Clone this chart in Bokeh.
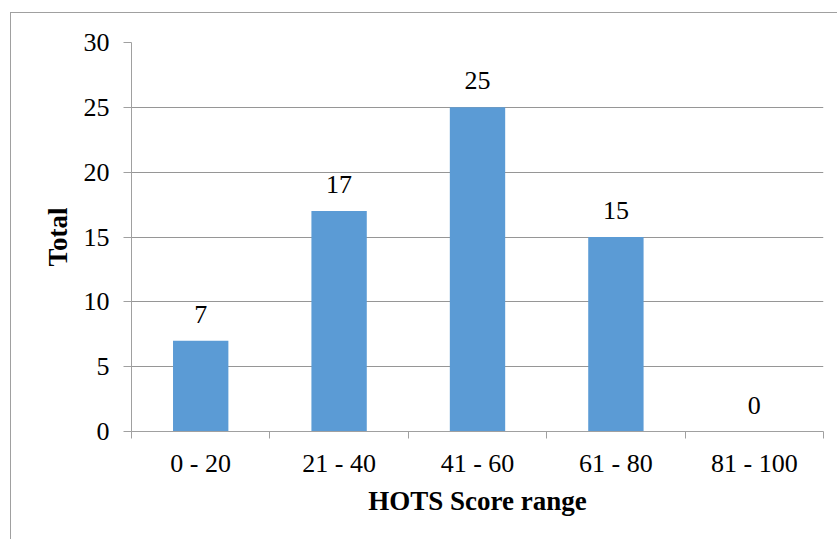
from bokeh.plotting import figure
from bokeh.models import FixedTicker, ColumnDataSource, Range1d, LabelSet
from bokeh.embed import file_html
from bokeh.resources import INLINE

categories = ["0 - 20", "21 - 40", "41 - 60", "61 - 80", "81 - 100"]
totals = [7, 17, 25, 15, 0]
y_ticks = [0, 5, 10, 15, 20, 25, 30]

FONT = "Liberation Serif"
n = len(categories)
xs = [i + 0.5 for i in range(n)]
src = ColumnDataSource(dict(x=xs, top=totals, label=[str(t) for t in totals]))

p = figure(width=827, height=527, x_range=Range1d(0, n), y_range=Range1d(0, 30),
           output_backend="svg", toolbar_location=None,
           min_border_left=120, min_border_right=15, min_border_top=29, min_border_bottom=109)
p.styles = {"margin-left": "10px", "margin-top": "12px",
            "border-left": "1px solid #a0a0a0", "border-top": "1px solid #a0a0a0"}
p.outline_line_color = None
p.background_fill_color = "white"
p.border_fill_color = "white"

p.vbar(x="x", top="top", width=0.4, bottom=0, source=src, fill_color="#5B9BD5", line_color=None)

labels = LabelSet(x="x", y="top", text="label", source=src, y_offset=18, text_align="center",
                  text_baseline="alphabetic", text_font=FONT, text_font_size="26px", text_color="black")
p.add_layout(labels)

# axes
p.yaxis.ticker = FixedTicker(ticks=y_ticks)
p.yaxis.axis_line_color = "#a0a0a0"
p.yaxis.major_tick_line_color = "#a0a0a0"
p.yaxis.major_tick_out = 8
p.yaxis.major_tick_in = 0
p.yaxis.minor_tick_line_color = None
p.yaxis.major_label_text_font = FONT
p.yaxis.major_label_text_font_size = "26px"
p.yaxis.major_label_text_color = "black"
p.yaxis.major_label_standoff = 14
p.yaxis.axis_label = "Total"
p.yaxis.axis_label_text_font = FONT
p.yaxis.axis_label_text_font_style = "bold"
p.yaxis.axis_label_text_font_size = "27px"
p.yaxis.axis_label_text_color = "black"
p.yaxis.axis_label_standoff = 8

p.xaxis.ticker = FixedTicker(ticks=xs, minor_ticks=list(range(n + 1)))
p.xaxis.major_label_overrides = {x: c for x, c in zip(xs, categories)}
p.xaxis.axis_line_color = "#a0a0a0"
p.xaxis.major_tick_line_color = None
p.xaxis.minor_tick_line_color = "#a0a0a0"
p.xaxis.minor_tick_out = 7
p.xaxis.minor_tick_in = 0
p.xaxis.major_label_text_font = FONT
p.xaxis.major_label_text_font_size = "26px"
p.xaxis.major_label_text_color = "black"
p.xaxis.major_label_standoff = 10
p.xaxis.axis_label = "HOTS Score range"
p.xaxis.axis_label_text_font = FONT
p.xaxis.axis_label_text_font_style = "bold"
p.xaxis.axis_label_text_font_size = "27px"
p.xaxis.axis_label_text_color = "black"
p.xaxis.axis_label_standoff = 5

p.xgrid.grid_line_color = None
p.ygrid.ticker = FixedTicker(ticks=y_ticks)
p.ygrid.grid_line_color = "#969696"

open("out.html", "w").write(file_html(p, INLINE))
